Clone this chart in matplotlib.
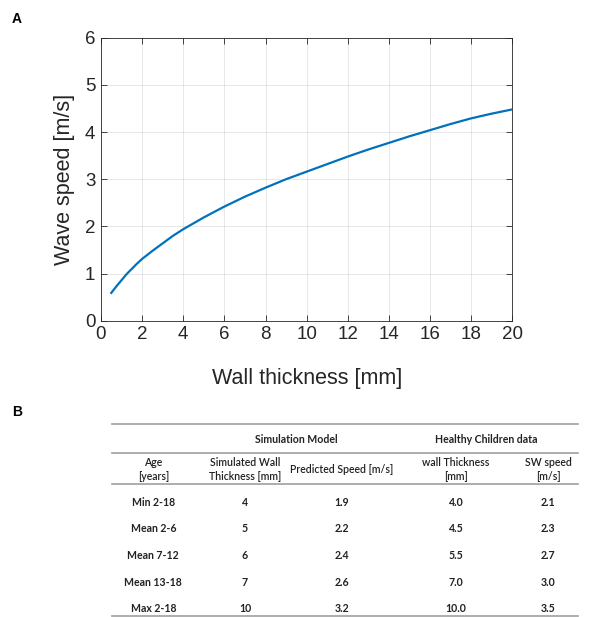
import numpy as np
import matplotlib.pyplot as plt
from matplotlib.lines import Line2D

# curve values
thickness = [0.5, 0.75, 1, 1.25, 1.5, 1.75, 2, 2.5, 3, 3.5, 4, 5, 6, 7, 8, 9, 10,
             11, 12, 13, 14, 15, 16, 17, 18, 19, 20]
speed = [0.59, 0.73, 0.86, 0.99, 1.10, 1.21, 1.31, 1.48, 1.64, 1.80, 1.94, 2.19,
         2.42, 2.63, 2.82, 3.00, 3.16, 3.32, 3.48, 3.63, 3.77, 3.91, 4.04, 4.17,
         4.29, 4.39, 4.48]

# table for panel B
age_groups = ['Min 2-18', 'Mean 2-6', 'Mean 7-12', 'Mean 13-18', 'Max 2-18']
sim_thickness = ['4', '5', '6', '7', '10']
pred_speed = ['1.9', '2.2', '2.4', '2.6', '3.2']
child_thickness = ['4.0', '4.5', '5.5', '7.0', '10.0']
child_speed = ['2.1', '2.3', '2.7', '3.0', '3.5']
col_headers = ['Age\n[years]', 'Simulated Wall\nThickness [mm]', 'Predicted Speed [m/s]',
               'wall Thickness\n[mm]', 'SW speed\n[m/s]']
group_headers = ['Simulation Model', 'Healthy Children data']

W, H = 592, 617
fig = plt.figure(figsize=(W / 100, H / 100), dpi=100)
plt.rcParams['font.family'] = ['Liberation Sans', 'DejaVu Sans']

# ---- panel A ----
ax = fig.add_axes([101 / W, 1 - 320.7 / H, 411.3 / W, 283 / H])
ax.plot(thickness, speed, color='#0072BD', linewidth=1.6)
ax.set_xlim(0, 20)
ax.set_ylim(0, 6)
ax.set_xticks(range(0, 21, 2))
ax.set_yticks(range(0, 7))
ax.grid(True, color='#262626', alpha=0.12, linewidth=0.6)
ax.tick_params(direction='in', top=True, right=True, labelsize=13.5, colors='#262626',
               length=4, width=0.6, pad=4)
for s in ax.spines.values():
    s.set_color('#262626')
    s.set_linewidth(0.6)
ax.set_xlabel('Wall thickness [mm]', fontsize=15.5, color='#262626', labelpad=18)
ax.set_ylabel('Wave speed [m/s]', fontsize=15.5, color='#262626', labelpad=7)

fig.text(12 / W, 1 - 19 / H, 'A', fontsize=10, fontweight='bold', va='center', ha='left')
fig.text(12 / W, 1 - 412 / H, 'B', fontsize=10, fontweight='bold', va='center', ha='left')

# ---- panel B (table) ----
tfont = ['Lato', 'DejaVu Sans']
fs = 7.6
x0, x1 = 111.7, 578.3
col_x = [153.3, 245, 341.7, 456, 548.3]
group_x = [296.7, 486]

def fx(px):
    return px / W

def fy(py):
    return 1 - py / H

for yline in [424.3, 452.7, 484.3, 616]:
    fig.add_artist(Line2D([fx(x0), fx(x1)], [fy(yline), fy(yline)],
                          transform=fig.transFigure, color='#a0a0a0', linewidth=1.2))

for gx, txt in zip(group_x, group_headers):
    fig.text(fx(gx), fy(439.3), txt, ha='center', va='center', fontsize=fs,
             fontweight='bold', family=tfont, color='#222222')

for cx, txt in zip(col_x, col_headers):
    fig.text(fx(cx), fy(469.5), txt, ha='center', va='center', fontsize=fs,
             family=tfont, color='#222222', linespacing=1.35, fontweight='semibold')

row_y = [502.7, 529, 555.7, 582.3, 609]
columns = [age_groups, sim_thickness, pred_speed, child_thickness, child_speed]
for cx, col in zip(col_x, columns):
    for ry, val in zip(row_y, col):
        fig.text(fx(cx), fy(ry), val, ha='center', va='center', fontsize=fs,
                 fontweight='bold', family=tfont, color='#222222')

fig.savefig('out.png', dpi=100)
